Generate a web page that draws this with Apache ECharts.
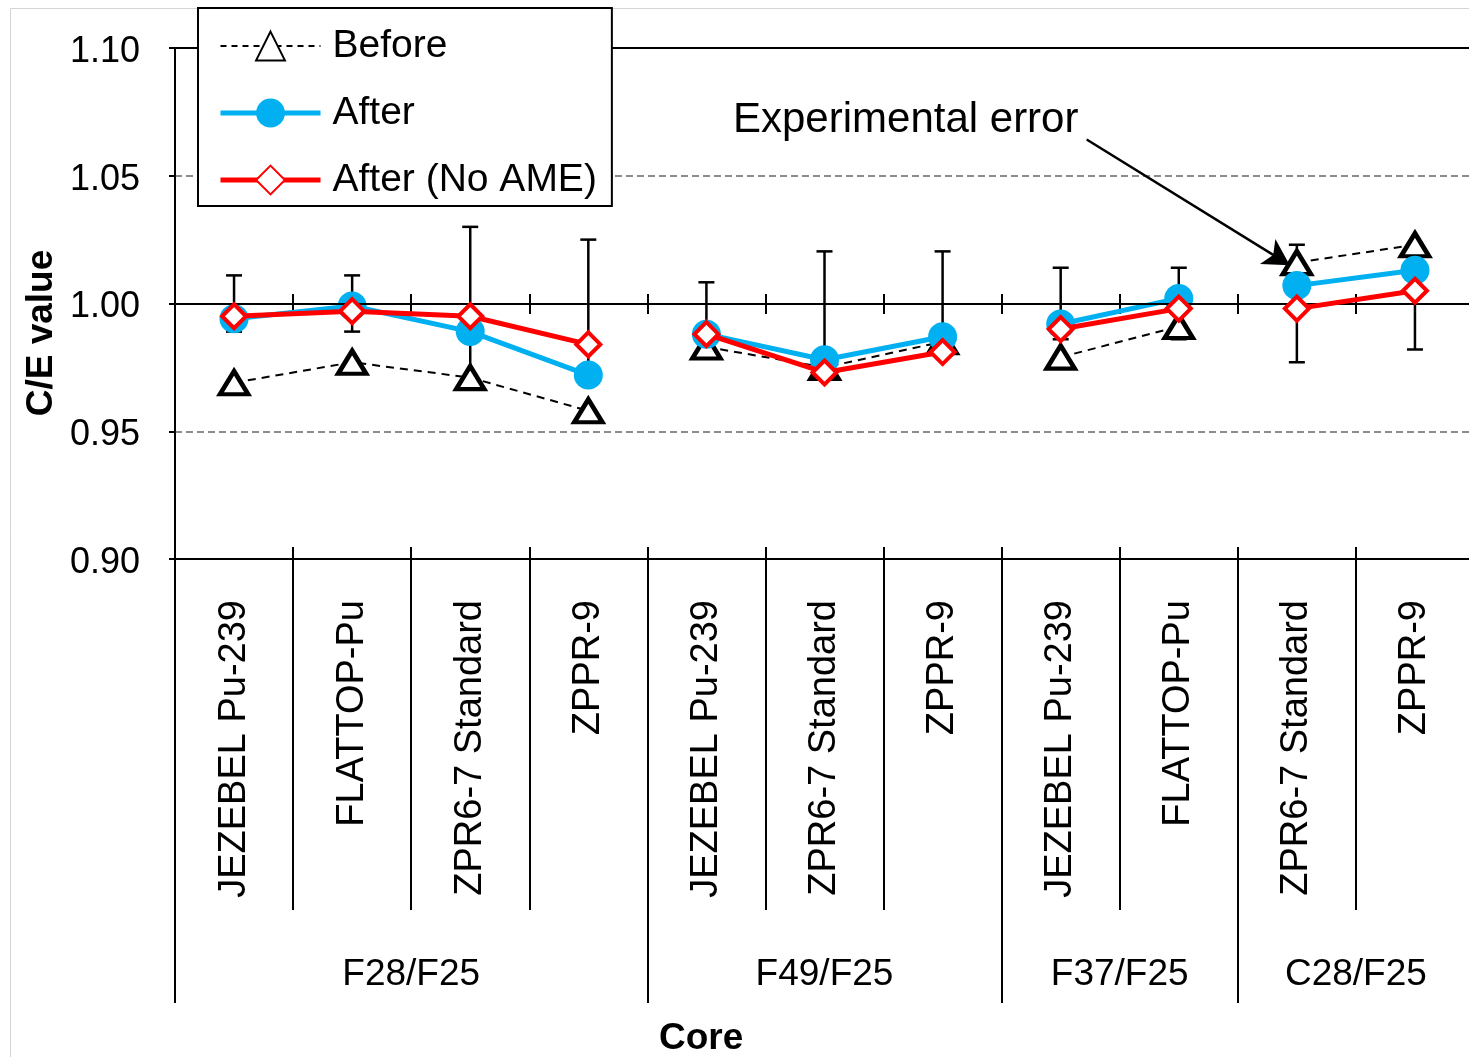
<!DOCTYPE html>
<html>
<head>
<meta charset="utf-8">
<script src="https://cdn.jsdelivr.net/npm/echarts@6/dist/echarts.min.js"></script>
<style>
html,body{margin:0;padding:0;background:#fff;}
#chart{width:1469px;height:1057px;}
</style>
</head>
<body>
<div id="chart"></div>
<script>
// ---------------- data ----------------
const categories = ['JEZEBEL Pu-239','FLATTOP-Pu','ZPR6-7 Standard','ZPPR-9',
                    'JEZEBEL Pu-239','ZPR6-7 Standard','ZPPR-9',
                    'JEZEBEL Pu-239','FLATTOP-Pu',
                    'ZPR6-7 Standard','ZPPR-9'];
const groupNames = ['F28/F25','F49/F25','F37/F25','C28/F25'];
const groupSizes = [4,3,2,2];
const before     = [0.969,0.977,0.971,0.958, 0.983,0.975,0.985, 0.979,0.991, 1.016,1.023];
const after      = [0.994,0.999,0.989,0.972, 0.988,0.978,0.987, 0.992,1.002, 1.007,1.013];
const afterNoAME = [0.995,0.997,0.995,0.984, 0.988,0.973,0.981, 0.990,0.998, 0.998,1.005];
const expError   = [0.011,0.011,0.030,0.025, 0.0083,0.0204,0.0204, 0.014,0.014, 0.023,0.018];
const expCenter  = 1.0;
const yMin = 0.90, yMax = 1.10, yStep = 0.05;
const yTickLabels = ['0.90','0.95','1.00','1.05','1.10'];
const annotationText = 'Experimental error';
const yTitle = 'C/E value';
const xTitle = 'Core';

// ---------------- helpers ----------------
const FONT = '"Liberation Sans", Arial, sans-serif';
const groupStarts = [];
(function(){ let s = 0; groupSizes.forEach(n => { groupStarts.push(s); s += n; }); })();
const groupBounds = groupStarts.concat([categories.length]);
const groupCenters = groupStarts.map((s,i) => s + groupSizes[i]/2);

function groupSeries(name, values, style) {
  return groupStarts.map((s, gi) => {
    const data = [];
    for (let i = s; i < s + groupSizes[gi]; i++) data.push([i, values[i]]);
    return Object.assign({ name: name, type: 'line', xAxisIndex: 0, yAxisIndex: 0, data: data }, style);
  });
}

const beforeStyle = {
  z: 3,
  symbol: 'triangle', symbolSize: [28, 23],
  lineStyle: { color: '#000', width: 2, type: [8, 6] },
  itemStyle: { color: '#fff', borderColor: '#000', borderWidth: 4.5 }
};
const afterStyle = {
  z: 4,
  symbol: 'circle', symbolSize: 29,
  lineStyle: { color: '#00B0F0', width: 5 },
  itemStyle: { color: '#00B0F0', borderColor: '#00B0F0', borderWidth: 0 }
};
const noAmeStyle = {
  z: 5,
  symbol: 'diamond', symbolSize: 24,
  lineStyle: { color: '#FF0000', width: 5 },
  itemStyle: { color: '#fff', borderColor: '#FF0000', borderWidth: 4 }
};

const series = [];
series.push({
  name: 'ref', type: 'line', xAxisIndex: 0, yAxisIndex: 0, data: [], z: 1,
  markLine: { silent: true, symbol: 'none', label: { show: false },
    lineStyle: { color: '#000', width: 2, type: 'solid' },
    data: [{ yAxis: expCenter }] }
});
series.push({
  name: 'Experimental error', type: 'custom', xAxisIndex: 0, yAxisIndex: 0, z: 2,
  data: expError.map((e, i) => [i, e]),
  renderItem: function (params, api) {
    const x = api.value(0), e = api.value(1);
    const top = api.coord([x, expCenter + e]);
    const bot = api.coord([x, expCenter - e]);
    const hw = 8;
    const st = { stroke: '#000', lineWidth: 2.5 };
    return { type: 'group', children: [
      { type: 'line', shape: { x1: top[0], y1: top[1], x2: bot[0], y2: bot[1] }, style: st },
      { type: 'line', shape: { x1: top[0]-hw, y1: top[1], x2: top[0]+hw, y2: top[1] }, style: st },
      { type: 'line', shape: { x1: bot[0]-hw, y1: bot[1], x2: bot[0]+hw, y2: bot[1] }, style: st }
    ]};
  }
});
series.push(...groupSeries('Before', before, beforeStyle));
series.push(...groupSeries('After', after, afterStyle));
series.push(...groupSeries('After (No AME)', afterNoAME, noAmeStyle));
series.push({
  name: 'arrow', type: 'line', xAxisIndex: 2, yAxisIndex: 0, data: [], z: 6,
  markLine: { silent: true, symbol: ['none', 'arrow'], symbolSize: [22, 26], label: { show: false },
    lineStyle: { color: '#000', width: 2.5, type: 'solid' },
    data: [[{ coord: [7.72, 1.0642] }, { coord: [9.44, 1.0150] }]] }
});

const option = {
  backgroundColor: '#fff',
  animation: false,
  textStyle: { fontFamily: FONT },
  grid: [
    { left: 175, top: 48, width: 1299, height: 511, outerBoundsMode: 'none', containLabel: false },
    { left: 175, top: 294, width: 1299, height: 20, outerBoundsMode: 'none', containLabel: false }
  ],
  legend: {
    data: [
      { name: 'Before', lineStyle: { width: 2, type: [6, 5] } },
      { name: 'After', lineStyle: { width: 5 } },
      { name: 'After (No AME)', lineStyle: { width: 5 } }
    ],
    orient: 'vertical', left: 198, top: 8,
    padding: [18, 15, 6, 20],
    itemWidth: 100, itemHeight: 36, itemGap: 27,
    backgroundColor: '#fff', borderColor: '#000', borderWidth: 2, borderRadius: 0,
    textStyle: { fontSize: 39, color: '#000', fontFamily: FONT, lineHeight: 40, padding: [0, 0, 0, 7] }
  },
  xAxis: [
    {
      type: 'category', gridIndex: 0, position: 'bottom', offset: 0, data: categories, boundaryGap: true,
      axisLine: { show: true, onZero: false, lineStyle: { color: '#000', width: 2 } },
      axisTick: { show: true, interval: 0, length: 351, lineStyle: { color: '#000', width: 2 } },
      axisLabel: { show: true, interval: 0, rotate: 90, margin: 41, fontSize: 38, color: '#000', fontFamily: FONT },
      splitLine: { show: false }
    },
    {
      type: 'category', gridIndex: 0, position: 'bottom', offset: 0, data: categories, boundaryGap: true,
      axisLine: { show: false, onZero: false },
      axisTick: { show: true, inside: true, interval: 0, length: 12, lineStyle: { color: '#000', width: 2 } },
      axisLabel: { show: false }, splitLine: { show: false }
    },
    {
      type: 'value', gridIndex: 0, position: 'bottom', offset: 0, min: 0, max: categories.length,
      axisLine: { show: false, onZero: false },
      axisTick: { show: true, customValues: groupBounds, length: 444, lineStyle: { color: '#000', width: 2 } },
      axisLabel: { show: true, customValues: groupCenters, margin: 397, fontSize: 37, color: '#000', fontFamily: FONT,
        formatter: function (v) {
          for (let i = 0; i < groupCenters.length; i++) if (Math.abs(groupCenters[i] - v) < 1e-6) return groupNames[i];
          return '';
        } },
      splitLine: { show: false }
    },
    {
      type: 'category', gridIndex: 0, position: 'top', data: categories,
      axisLine: { show: true, onZero: false, lineStyle: { color: '#000', width: 2 } },
      axisTick: { show: false }, axisLabel: { show: false }, splitLine: { show: false }
    },
    {
      type: 'category', gridIndex: 1, position: 'top', data: categories, boundaryGap: true,
      axisLine: { show: false, onZero: false },
      axisTick: { show: true, inside: true, interval: 0, length: 20, lineStyle: { color: '#000', width: 2 } },
      axisLabel: { show: false }, splitLine: { show: false }
    }
  ],
  yAxis: [
    {
      type: 'value', gridIndex: 0, min: yMin, max: yMax, interval: yStep,
      axisLine: { show: true, onZero: false, lineStyle: { color: '#000', width: 2 } },
      axisTick: { show: true, length: 6, lineStyle: { color: '#000', width: 2 } },
      axisLabel: { margin: 35, fontSize: 36, color: '#000', fontFamily: FONT,
        verticalAlign: 'top', lineHeight: 8,
        formatter: function (v) { return yTickLabels[Math.round((v - yMin) / yStep)] || ''; } },
      splitLine: { show: true, lineStyle: { color: '#8c8c8c', width: 2, type: [7, 4] } }
    },
    { type: 'value', gridIndex: 1, show: false, splitLine: { show: false } }
  ],
  graphic: [
    { type: 'rect', left: 8, top: 6, z: -10, silent: true,
      shape: { width: 1500, height: 1100 },
      style: { fill: 'none', stroke: '#d4d4d4', lineWidth: 1 } },
    { type: 'text', left: 733, top: 99, z: 10,
      style: { text: annotationText, fontSize: 42, fontFamily: FONT, fill: '#000' } },
    { type: 'text', left: 659, top: 1020, z: 10,
      style: { text: xTitle, fontSize: 37, fontWeight: 'bold', fontFamily: FONT, fill: '#000' } },
    { type: 'text', x: 42, y: 333, rotation: Math.PI / 2, z: 10,
      style: { text: yTitle, fontSize: 37, fontWeight: 'bold', fontFamily: FONT, fill: '#000',
        align: 'center', verticalAlign: 'middle' } }
  ],
  series: series
};

const chart = echarts.init(document.getElementById('chart'), null, { renderer: 'canvas' });
chart.setOption(option);
</script>
</body>
</html>
